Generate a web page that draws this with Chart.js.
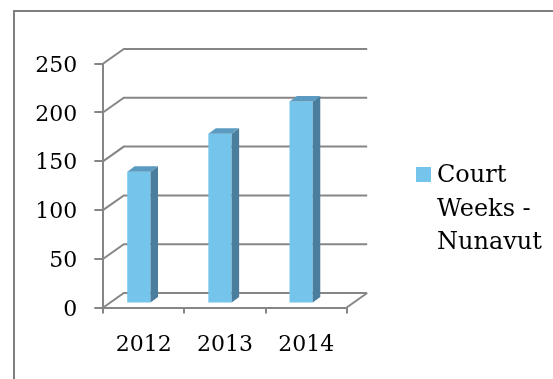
<!DOCTYPE html>
<html>
<head>
<meta charset="utf-8">
<script src="https://cdn.jsdelivr.net/npm/chart.js@4"></script>
<style>
  html, body { margin: 0; padding: 0; background: #fff; }
  canvas { display: block; }
</style>
</head>
<body>
<canvas id="chart" width="553" height="379"></canvas>
<script>
// ── Data ───────────────────────────────────────────────────────────────────
const years       = ['2012', '2013', '2014'];
const courtWeeks  = [135, 174, 207];
const seriesLabel = 'Court Weeks - Nunavut';
const yTicks      = [0, 50, 100, 150, 200, 250];

// ── Look ───────────────────────────────────────────────────────────────────
const AXIS_GREY  = '#868686';
const BAR_FRONT  = '#74c4ec';
const BAR_SIDE   = '#4b7d9c';
const BAR_TOP    = '#5b9bc1';
const FONT       = "'DejaVu Serif', serif";

const WALL_DX = 20.5, WALL_DY = -14.5;   // back wall offset (fake depth)
const BAR_DX  = -5,   BAR_DY  = -4;      // bars sit a little behind the front plane
const BOX_DX  = 7.5,  BOX_DY  = -5.5;    // bar thickness

// ── 3D-look plugin ─────────────────────────────────────────────────────────
const pseudo3d = {
  id: 'pseudo3d',
  beforeDraw(chart) {
    const ctx = chart.ctx;
    ctx.save();
    ctx.fillStyle = '#fff';
    ctx.fillRect(0, 0, chart.width, chart.height);
    ctx.strokeStyle = '#7f7f7f';
    ctx.lineWidth = 2;
    ctx.strokeRect(14, 11, 600, 400);
    ctx.restore();
  },
  beforeDatasetsDraw(chart) {
    const { ctx, chartArea: a, scales: { y } } = chart;
    ctx.save();
    ctx.strokeStyle = AXIS_GREY;
    ctx.lineWidth = 2;
    ctx.beginPath();
    yTicks.forEach(v => {
      const py = y.getPixelForValue(v);
      ctx.moveTo(a.left, py);
      ctx.lineTo(a.left + WALL_DX, py + WALL_DY);
      ctx.lineTo(a.right + WALL_DX, py + WALL_DY);
    });
    // right edge of the floor
    ctx.moveTo(a.right, a.bottom);
    ctx.lineTo(a.right + WALL_DX, a.bottom + WALL_DY);
    ctx.stroke();
    ctx.restore();

    // shift bars back; restored in afterDatasetsDraw
    ctx.save();
    ctx.translate(BAR_DX, BAR_DY);
  },
  afterDatasetsDraw(chart) {
    const ctx = chart.ctx;
    chart.getDatasetMeta(0).data.forEach(bar => {
      const l = bar.x - bar.width / 2, r = bar.x + bar.width / 2;
      const t = bar.y, b = bar.base;
      ctx.fillStyle = BAR_SIDE;
      ctx.beginPath();
      ctx.moveTo(r, t);
      ctx.lineTo(r + BOX_DX, t + BOX_DY);
      ctx.lineTo(r + BOX_DX, b + BOX_DY);
      ctx.lineTo(r, b);
      ctx.closePath();
      ctx.fill();
      ctx.fillStyle = BAR_TOP;
      ctx.beginPath();
      ctx.moveTo(l, t);
      ctx.lineTo(l + BOX_DX, t + BOX_DY);
      ctx.lineTo(r + BOX_DX, t + BOX_DY);
      ctx.lineTo(r, t);
      ctx.closePath();
      ctx.fill();
    });
    ctx.restore();
  },
  afterDraw(chart) {
    // legend, wrapped to a narrow column on the right
    const ctx = chart.ctx;
    const ds = chart.data.datasets[0];
    ctx.save();
    ctx.font = `24px ${FONT}`;
    const words = ds.label.split(' ');
    const lines = [];
    let cur = '';
    words.forEach(w => {
      const test = cur ? cur + ' ' + w : w;
      if (cur && ctx.measureText(test).width > 105) { lines.push(cur); cur = w; }
      else cur = test;
    });
    if (cur) lines.push(cur);

    ctx.fillStyle = ds.backgroundColor;
    ctx.fillRect(416, 167, 15, 15);
    ctx.fillStyle = '#000';
    ctx.textBaseline = 'alphabetic';
    lines.forEach((ln, i) => ctx.fillText(ln, 437, 182 + i * 33.5));
    ctx.restore();
  }
};

// ── Chart ──────────────────────────────────────────────────────────────────
new Chart(document.getElementById('chart'), {
  type: 'bar',
  data: {
    labels: years,
    datasets: [{
      label: seriesLabel,
      data: courtWeeks,
      backgroundColor: BAR_FRONT,
      borderWidth: 0,
      categoryPercentage: 1,
      barPercentage: 0.287,
      clip: false,
    }],
  },
  options: {
    responsive: false,
    animation: false,
    devicePixelRatio: 1,
    layout: { padding: { left: 0, top: 63.5, right: 206.3, bottom: 0 } },
    plugins: {
      legend: { display: false },
      tooltip: { enabled: false },
    },
    scales: {
      x: {
        grid: { offset: true, drawOnChartArea: false, tickLength: 6, color: AXIS_GREY, lineWidth: 2 },
        border: { color: AXIS_GREY, width: 2 },
        ticks: { color: '#000', font: { family: FONT, size: 22 }, padding: 18.5 },
        afterFit: s => { s.height = 71.5; },
      },
      y: {
        min: 0,
        max: 250,
        afterBuildTicks: s => { s.ticks = yTicks.map(v => ({ value: v })); },
        grid: { drawOnChartArea: false, tickLength: 9, color: AXIS_GREY, lineWidth: 2 },
        border: { color: AXIS_GREY, width: 2 },
        ticks: { color: '#000', font: { family: FONT, size: 22 }, padding: 17, labelOffset: 2.5 },
        afterFit: s => { s.width = 103.3; },
      },
    },
  },
  plugins: [pseudo3d],
});
</script>
</body>
</html>
